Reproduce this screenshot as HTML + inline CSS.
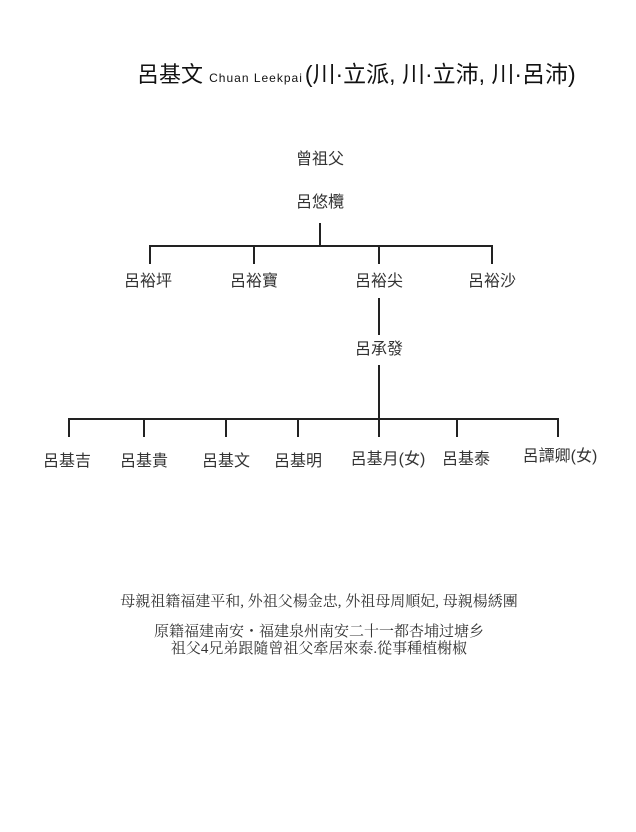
<!DOCTYPE html>
<html><head><meta charset="utf-8"><style>
body{margin:0;width:636px;height:832px;background:#fff;position:relative;overflow:hidden;font-family:"Liberation Sans","Noto Sans CJK TC",sans-serif;color:#333}
.t{position:absolute;white-space:nowrap;font-size:16px;line-height:20px;transform:translateX(-50%)}
.l{position:absolute;background:#222}
.s{position:absolute;white-space:nowrap;font-family:"Liberation Serif","Noto Serif CJK SC",serif;font-size:15px;line-height:17px;color:#333;left:319px;transform:translateX(-50%)}
</style></head><body>
<div style="position:absolute;left:137px;top:60px;white-space:nowrap;font-size:22px;line-height:28px;color:#111">呂基文 <span style="font-size:12px;letter-spacing:1px">Chuan Leekpai</span><span style="font-size:23px;margin-left:2px">(川·立派, 川·立沛, 川·呂沛)</span></div>

<div class="t" style="left:320px;top:150px">曾祖父</div>
<div class="t" style="left:320px;top:193px">呂悠欖</div>
<div class="l" style="left:319px;top:223px;width:2px;height:24px"></div>
<div class="l" style="left:149px;top:245px;width:344px;height:2px"></div>
<div class="l" style="left:149px;top:245px;width:2px;height:19px"></div>
<div class="l" style="left:253px;top:245px;width:2px;height:19px"></div>
<div class="l" style="left:378px;top:245px;width:2px;height:19px"></div>
<div class="l" style="left:491px;top:245px;width:2px;height:19px"></div>
<div class="t" style="left:148px;top:272px">呂裕坪</div>
<div class="t" style="left:254px;top:272px">呂裕寶</div>
<div class="t" style="left:379px;top:272px">呂裕尖</div>
<div class="t" style="left:492px;top:272px">呂裕沙</div>
<div class="l" style="left:378px;top:298px;width:2px;height:37px"></div>
<div class="t" style="left:379px;top:340px">呂承發</div>
<div class="l" style="left:378px;top:365px;width:2px;height:55px"></div>
<div class="l" style="left:68px;top:418px;width:491px;height:2px"></div>
<div class="l" style="left:68px;top:418px;width:2px;height:19px"></div>
<div class="l" style="left:143px;top:418px;width:2px;height:19px"></div>
<div class="l" style="left:225px;top:418px;width:2px;height:19px"></div>
<div class="l" style="left:297px;top:418px;width:2px;height:19px"></div>
<div class="l" style="left:378px;top:418px;width:2px;height:19px"></div>
<div class="l" style="left:456px;top:418px;width:2px;height:19px"></div>
<div class="l" style="left:557px;top:418px;width:2px;height:19px"></div>
<div class="t" style="left:67px;top:452px">呂基吉</div>
<div class="t" style="left:144px;top:452px">呂基貴</div>
<div class="t" style="left:226px;top:452px">呂基文</div>
<div class="t" style="left:298px;top:452px">呂基明</div>
<div class="t" style="left:388px;top:450px">呂基月(女)</div>
<div class="t" style="left:466px;top:450px">呂基泰</div>
<div class="t" style="left:560px;top:447px">呂譚卿(女)</div>

<div class="s" style="top:594px">母親祖籍福建平和, 外祖父楊金忠, 外祖母周順妃, 母親楊綉團</div>
<div class="s" style="top:624px">原籍福建南安・福建泉州南安二十一都杏埔过塘乡</div>
<div class="s" style="top:641px">祖父4兄弟跟隨曾祖父牽居來泰.從事種植榭椒</div>
</body></html>
